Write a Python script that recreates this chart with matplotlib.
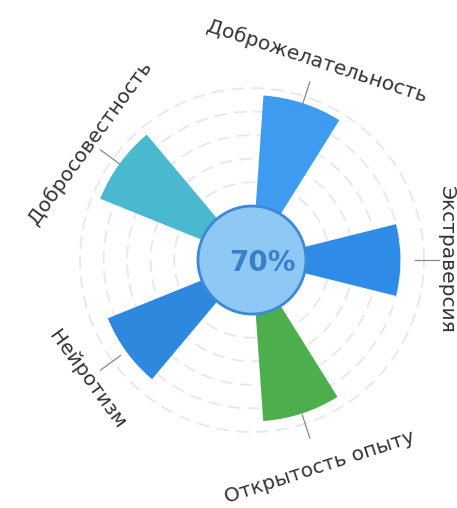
import numpy as np
import matplotlib
matplotlib.use("Agg")
import matplotlib.pyplot as plt
from matplotlib.patches import Circle

# ---- data ----
categories = ["Экстраверсия", "Доброжелательность", "Добросовестность",
              "Нейротизм", "Открытость опыту"]
values = [80, 94, 93, 86, 91]
colors = ["#2f8ce6", "#3d9cef", "#4ab8cf", "#2e88dd", "#4cae4c"]
center_label = "70%"
grid_levels = [20, 40, 60, 80, 100]

plt.rcParams['font.family'] = ['DejaVu Sans']

fig = plt.figure(figsize=(4.57, 5.08), dpi=100)
ax = fig.add_axes([0.175, 0.1496, 0.7527, 0.677], projection='polar')
ax.set_rorigin(-46)
ax.set_ylim(0, 100)
ax.set_theta_offset(0)
ax.set_theta_direction(1)

n = len(categories)
theta = np.deg2rad(np.arange(n) * 360.0 / n)
width = np.deg2rad(28)

ax.bar(theta, values, width=width, bottom=0, color=colors, edgecolor='none', zorder=3)

# grid
ax.grid(False)
ax.set_xticks([])
ax.set_yticks([])
ax.spines['polar'].set_visible(False)
tt = np.linspace(0, 2 * np.pi, 400)
for g in grid_levels:
    ax.plot(tt, np.full_like(tt, g), color='#e8e8e8', lw=1.3, ls=(0, (7, 4)), zorder=1, clip_on=False)

# ticks and labels
rots = [-90, -18, 54, -54, 18]
label_r = [119, 131, 124, 127, 139]
for th, lab, rot, lr in zip(theta, categories, rots, label_r):
    ax.plot([th, th], [92, 113], color='#888888', lw=0.9, zorder=2, clip_on=False)
    ax.text(th, lr, lab, rotation=rot, rotation_mode='anchor', ha='center', va='center',
            fontsize=14.5, color='#333333', clip_on=False)

# center circle
circ = Circle((0.5, 0.5), 0.157, transform=ax.transAxes, facecolor='#90c8f5',
              edgecolor='#3b8ad9', lw=2, zorder=5, clip_on=False)
ax.add_artist(circ)
ax.text(0.53, 0.49, center_label, transform=ax.transAxes, ha='center', va='center',
        fontsize=20, fontweight='bold', color='#3a7fc9', zorder=6)

fig.savefig('out.png', dpi=100, facecolor='white')
